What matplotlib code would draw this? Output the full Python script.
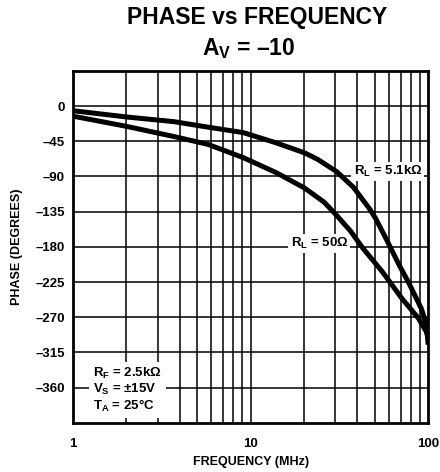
import matplotlib.pyplot as plt
import numpy as np

plt.rcParams['font.family'] = ['Liberation Sans', 'DejaVu Sans']
plt.rcParams['font.weight'] = 'bold'
plt.rcParams['mathtext.fontset'] = 'custom'
plt.rcParams['mathtext.rm'] = 'Liberation Sans:bold'
plt.rcParams['mathtext.it'] = 'Liberation Sans:bold'
plt.rcParams['mathtext.bf'] = 'Liberation Sans:bold'

# curves
freq_5k1 = [1, 2, 3.7, 5.75, 9.1, 13.9, 20.2, 23.8, 30.6, 38, 47, 50.7, 57.5, 68.6, 77.8, 91.6, 98, 100]
phase_5k1 = [-6, -14, -20, -27, -34, -47, -60, -68, -84, -104, -132, -144, -168, -203, -226, -259, -280, -305]

freq_50 = [1, 2, 3.7, 5.75, 9.1, 13.9, 20.2, 26, 30.6, 36.6, 43, 55.3, 71.2, 88, 97.5, 100]
phase_50 = [-13, -26, -39, -49, -66, -85, -105, -123, -140, -160, -182, -212, -246, -271, -288, -296]

y_ticks = [0, -45, -90, -135, -180, -225, -270, -315, -360]
x_ticks = [1, 10, 100]

fig = plt.figure(figsize=(4.4, 4.72), dpi=100)
ax = fig.add_axes([0.166, 0.104, 0.807, 0.746])

ax.set_xscale('log')
ax.set_xlim(1, 100)
ax.set_ylim(-405, 45)

# grid
for dec in [1, 10]:
    for m in range(2, 10):
        ax.axvline(dec * m, color='black', lw=1.1, zorder=1)
ax.axvline(10, color='black', lw=1.1, zorder=1)
for y in y_ticks:
    ax.axhline(y, color='black', lw=1.1, zorder=1)

ax.plot(freq_5k1, phase_5k1, color='black', lw=3.6, solid_capstyle='butt', solid_joinstyle='round', zorder=4)
ax.plot(freq_50, phase_50, color='black', lw=3.6, solid_capstyle='butt', solid_joinstyle='round', zorder=4)

ax.set_yticks(y_ticks)
ax.set_yticklabels([str(v).replace('-', '\u2013') for v in y_ticks], fontsize=9.5, fontweight='bold')
ax.set_xticks(x_ticks)
ax.set_xticklabels([str(v) for v in x_ticks], fontsize=9.5, fontweight='bold')
ax.xaxis.set_minor_locator(plt.NullLocator())
ax.tick_params(axis='both', length=0)
ax.tick_params(axis='y', pad=6)
ax.tick_params(axis='x', pad=11)

for s in ax.spines.values():
    s.set_linewidth(2.0)
    s.set_zorder(5)

ax.set_xlabel('FREQUENCY (MHz)', fontsize=9, fontweight='bold', labelpad=4)
ax.set_ylabel('PHASE (DEGREES)', fontsize=9, fontweight='bold', labelpad=9)

box = dict(facecolor='white', edgecolor='none', pad=1.5)
ax.text(38, -84, 'R$_\\mathrm{L}$ = 5.1k\u03a9', fontsize=9.5, fontweight='bold',
        ha='left', va='center', bbox=box, zorder=3)
ax.text(24.4, -176, 'R$_\\mathrm{L}$ = 50\u03a9', fontsize=9.5, fontweight='bold',
        ha='center', va='center', bbox=box, zorder=3)
ax.text(1.3, -363, 'R$_\\mathrm{F}$ = 2.5k\u03a9\nV$_\\mathrm{S}$ = \u00b115V\nT$_\\mathrm{A}$ = 25\u00b0C',
        fontsize=9.5, fontweight='bold', ha='left', va='center', linespacing=1.05,
        bbox=dict(facecolor='white', edgecolor='none', pad=3), zorder=3)

fig.text(0.585, 0.962, 'PHASE vs FREQUENCY', fontsize=16.5, fontweight='bold', ha='center', va='center')
fig.text(0.565, 0.898, 'A$_\\mathrm{V}$ = \u201310', fontsize=16.5, fontweight='bold', ha='center', va='center')

fig.savefig('out.png', dpi=100)
